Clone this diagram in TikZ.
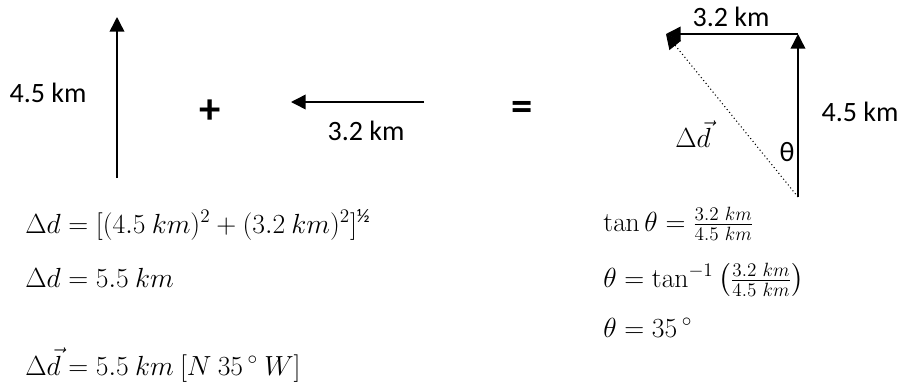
\documentclass[tikz,border=0pt]{standalone}
\usepackage{amsmath,amssymb}
\usepackage[no-math]{fontspec}
\setmainfont{Carlito}
\usetikzlibrary{arrows.meta,positioning}
\tikzset{
  >={Triangle[width=11pt,length=11pt]},
}

\begin{document}
\begin{tikzpicture}[
  x=0.75pt,y=-0.75pt,
  vec/.style={->,line width=1.1pt},
  res/.style={->,line width=0.8pt,dotted,line cap=butt},
  lbl/.style={font=\fontsize{21}{25}\selectfont},
  op/.style={font=\fontsize{32}{36}\selectfont\bfseries},
  eqn/.style={anchor=base west,inner sep=0pt,font=\fontsize{20.74}{25}\selectfont}
]
\useasboundingbox (0,0) rectangle (901,390);
% the two vectors
\coordinate (a0) at (117,178);
\coordinate (a1) at (117,17);
\coordinate (b0) at (424,102);
\coordinate (b1) at (291,102);
\draw[vec] (a0) -- (a1);
\draw[vec] (b0) -- (b1);
\node[lbl] (la) at (48,93) {4.5 km};
\node[lbl] (lb) at (366,131) {3.2 km};
\node[op] (plus) at (210,112) {+};
\node[op] (eq) at (522,111) {=};
% the sum
\coordinate (t0) at (798,197);
\coordinate (t1) at (798,34);
\coordinate (t2) at (666,34);
\draw[vec] (t0) -- (t1);
\draw[vec] (t1) -- (t2);
\draw[res] (t0) -- (t2);
\node[lbl] (lt1) at (731,17) {3.2 km};
\node[lbl] (lt2) at (860,112) {4.5 km};
\node[lbl] (th) at (787,152) {θ};
\node[font=\fontsize{20}{24}\selectfont,inner sep=1pt] (dd) at (693,134) {$\Delta\vec{d}$};
% working
\node[eqn] (e1) at (25,233) {$\Delta d = [(4.5\ km)^2 + (3.2\ km)^2]^{\text{½}}$};
\node[eqn] (e2) at (25,287) {$\Delta d = 5.5\ km$};
\node[eqn] (e3) at (25,375) {$\Delta\vec{d} = 5.5\ km\ [N\ 35\,{}^\circ\ W]$};
\node[eqn] (f1) at (603,231) {$\tan\theta = \frac{3.2\ km}{4.5\ km}$};
\node[eqn] (f2) at (603,287) {$\theta = \tan^{-1}\left(\frac{3.2\ km}{4.5\ km}\right)$};
\node[eqn] (f3) at (603,337) {$\theta = 35\,{}^\circ$};
\end{tikzpicture}
\end{document}
